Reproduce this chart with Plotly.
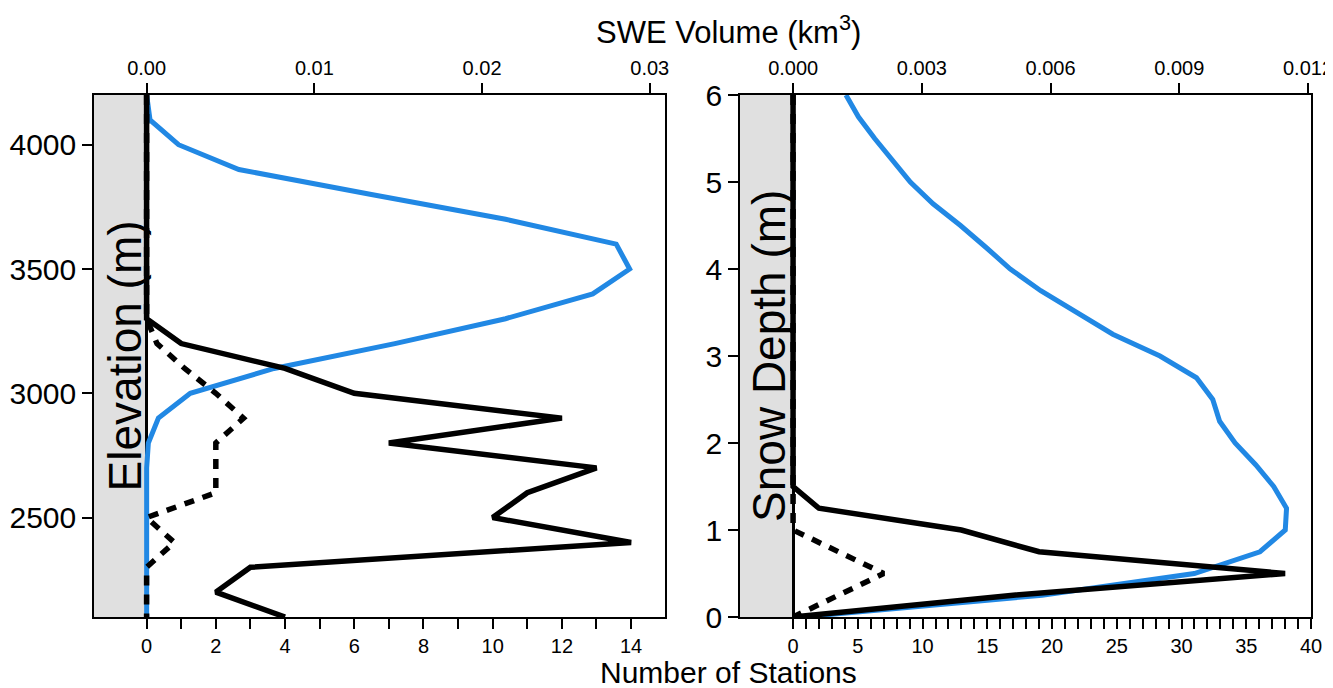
import plotly.graph_objects as go

# ---------------- data ----------------
elevation_m = [4200, 4100, 4000, 3900, 3800, 3700, 3600, 3500, 3400, 3300, 3200,
               3100, 3000, 2900, 2800, 2700, 2600, 2500, 2400, 2300, 2200, 2100]
swe_by_elev = [0.0, 0.0002, 0.0019, 0.0055, 0.0134, 0.0214, 0.0280, 0.0288, 0.0266,
               0.0214, 0.0148, 0.0076, 0.0026, 0.0007, 0.0001, 0.0, 0.0, 0.0, 0.0,
               0.0, 0.0, 0.0]
stations_elev_all = [0, 0, 0, 0, 0, 0, 0, 0, 0, 0, 1, 4, 6, 12, 7, 13, 11, 10, 14, 3, 2, 4]
stations_elev_sub = [0, 0, 0, 0, 0, 0, 0, 0, 0, 0, 0.3, 1.1, 2, 2.8, 2, 2, 2, 0, 0.8, 0, 0, 0]

snow_depth_m = [6.0, 5.75, 5.5, 5.25, 5.0, 4.75, 4.5, 4.25, 4.0, 3.75, 3.5, 3.25, 3.0,
                2.75, 2.5, 2.25, 2.0, 1.75, 1.5, 1.25, 1.0, 0.75, 0.5, 0.25, 0.0]
swe_by_depth = [0.00123, 0.00152, 0.00190, 0.00232, 0.00273, 0.00326, 0.00390, 0.00449,
                0.00506, 0.00577, 0.00659, 0.00745, 0.00855, 0.00940, 0.00978, 0.00994,
                0.01030, 0.01078, 0.01120, 0.01150, 0.01147, 0.01088, 0.00935, 0.00580,
                0.00020]
stations_depth_all = [0] * 19 + [2, 13, 19, 38, 17, 0]
stations_depth_sub = [0] * 21 + [3.5, 7, 3.5, 0]

left_top_ticks = [0.0, 0.01, 0.02, 0.03]
left_top_text = ["0.00", "0.01", "0.02", "0.03"]
right_top_ticks = [0.0, 0.003, 0.006, 0.009, 0.012]
right_top_text = ["0.000", "0.003", "0.006", "0.009", "0.012"]
left_bottom_major = list(range(0, 15, 2))
left_bottom_minor = list(range(1, 15, 2))
right_bottom_major = list(range(0, 41, 5))
right_bottom_minor = [v for v in range(0, 41) if v % 5 != 0]
elev_ticks = [2500, 3000, 3500, 4000]
depth_ticks = [0, 1, 2, 3, 4, 5, 6]

# ---------------- style ----------------
FONT = "Liberation Sans, Arial, sans-serif"
BLUE = "#2188E4"
GRAY = "#E0E0E0"

fig = go.Figure()

# SWE curves (top axes, base subplots)
fig.add_trace(go.Scatter(x=swe_by_elev, y=elevation_m, mode="lines",
                         line=dict(color=BLUE, width=5), xaxis="x", yaxis="y",
                         showlegend=False))
fig.add_trace(go.Scatter(x=swe_by_depth, y=snow_depth_m, mode="lines",
                         line=dict(color=BLUE, width=5), xaxis="x2", yaxis="y2",
                         showlegend=False))
# station counts (bottom axes, overlaying)
fig.add_trace(go.Scatter(x=stations_elev_sub, y=elevation_m, mode="lines",
                         line=dict(color="black", width=5.5, dash="10px,9px"),
                         xaxis="x3", yaxis="y", showlegend=False))
fig.add_trace(go.Scatter(x=stations_elev_all, y=elevation_m, mode="lines",
                         line=dict(color="black", width=5.5), xaxis="x3", yaxis="y",
                         showlegend=False))
fig.add_trace(go.Scatter(x=stations_depth_sub, y=snow_depth_m, mode="lines",
                         line=dict(color="black", width=5.5, dash="10px,9px"),
                         xaxis="x4", yaxis="y2", showlegend=False))
fig.add_trace(go.Scatter(x=stations_depth_all, y=snow_depth_m, mode="lines",
                         line=dict(color="black", width=5.5), xaxis="x4", yaxis="y2",
                         showlegend=False))

L_DOM = [0.0, 0.4692]
R_DOM = [0.5308, 1.0]
L_SWE = [-0.00314, 0.03091]
R_SWE = [-0.00124, 0.01207]
L_ST = [-1.52, 14.98]
R_ST = [-4.1, 40.0]

common_x = dict(showgrid=False, showline=True, linecolor="black", linewidth=1.5,
                ticks="outside", ticklen=10, tickwidth=1.5, tickcolor="black",
                automargin=False, ticklabeloverflow="allow",
                tickfont=dict(family=FONT, size=20, color="black"), fixedrange=True)
common_y = dict(showgrid=False, zeroline=False, showline=True, linecolor="black",
                linewidth=1.5, mirror=True, ticks="outside", ticklen=10, tickwidth=1.5,
                tickcolor="black", automargin=False, ticklabeloverflow="allow",
                tickfont=dict(family=FONT, size=30, color="black"))
minor_style = dict(ticks="outside", ticklen=10, tickwidth=1.5, tickcolor="black",
                   showgrid=False)

# page body has an 8px margin: size the figure to fill the rest of the window
fig.update_layout(
    width=1325, height=680, autosize=False,
    margin=dict(l=86, r=22, t=87, b=71),
    paper_bgcolor="white", plot_bgcolor="white",
    xaxis=dict(domain=L_DOM, range=L_SWE, side="top", anchor="y",
               tickmode="array", tickvals=left_top_ticks, ticktext=left_top_text,
               zeroline=True, zerolinecolor="black", zerolinewidth=3, **common_x),
    xaxis2=dict(domain=R_DOM, range=R_SWE, side="top", anchor="y2",
                tickmode="array", tickvals=right_top_ticks, ticktext=right_top_text,
                zeroline=True, zerolinecolor="black", zerolinewidth=3, **common_x),
    xaxis3=dict(overlaying="x", range=L_ST, side="bottom", anchor="y",
                tickmode="array", tickvals=left_bottom_major,
                minor=dict(tickmode="array", tickvals=left_bottom_minor, **minor_style),
                zeroline=False, **common_x),
    xaxis4=dict(overlaying="x2", range=R_ST, side="bottom", anchor="y2",
                tickmode="array", tickvals=right_bottom_major,
                minor=dict(tickmode="array", tickvals=right_bottom_minor, **minor_style),
                zeroline=False, **common_x),
    yaxis=dict(domain=[0, 1], range=[2100, 4200], anchor="x",
               tickmode="array", tickvals=elev_ticks, **common_y),
    yaxis2=dict(domain=[0, 1], range=[0, 6], anchor="x2",
                tickmode="array", tickvals=depth_ticks, **common_y),
    shapes=[
        dict(type="rect", xref="x", yref="y domain", x0=L_SWE[0], x1=0, y0=0, y1=1,
             fillcolor=GRAY, line=dict(width=0), layer="below"),
        dict(type="rect", xref="x2", yref="y2 domain", x0=R_SWE[0], x1=0, y0=0, y1=1,
             fillcolor=GRAY, line=dict(width=0), layer="below"),
    ],
    annotations=[
        dict(text="SWE Volume (km<sup>3</sup>)", xref="paper", yref="paper",
             x=0.521, y=1.125, xanchor="center", yanchor="middle", showarrow=False,
             font=dict(family=FONT, size=31, color="black")),
        dict(text="Number of Stations", xref="paper", yref="paper",
             x=0.521, y=-0.1054, xanchor="center", yanchor="middle", showarrow=False,
             font=dict(family=FONT, size=30, color="black")),
        dict(text="Elevation (m)", xref="paper", yref="paper", textangle=-90,
             x=0.0258, y=0.5, xanchor="center", yanchor="middle", showarrow=False,
             font=dict(family=FONT, size=46, color="black")),
        dict(text="Snow Depth (m)", xref="paper", yref="paper", textangle=-90,
             x=0.5546, y=0.5, xanchor="center", yanchor="middle", showarrow=False,
             font=dict(family=FONT, size=46, color="black")),
    ],
)

fig.write_html("out.html")
